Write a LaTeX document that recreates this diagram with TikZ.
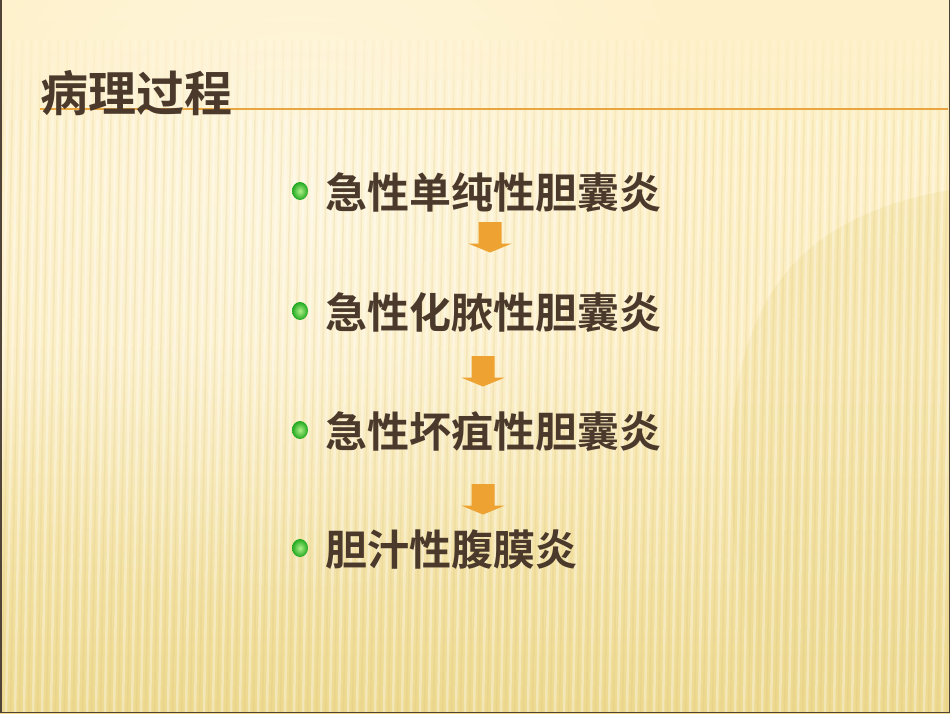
\documentclass[tikz,border=0pt]{standalone}
\usepackage{fontspec}
\newfontfamily\cjk{Noto Sans CJK SC}[BoldFont={Noto Sans CJK SC Bold}]
\usetikzlibrary{shapes.geometric,fadings}
\definecolor{bgtop}{HTML}{FEF1CA}
\definecolor{bgbot}{HTML}{EDD98F}
\definecolor{txt}{HTML}{4B3A2C}
\definecolor{rule}{HTML}{E9A640}
\definecolor{arr}{HTML}{EDA232}
\definecolor{frame}{HTML}{4F4437}
\definecolor{ballout}{HTML}{1FA81F}
\definecolor{ballin}{HTML}{B0F088}
\definecolor{stripedark}{HTML}{D9BF70}
\tikzfading[name=softdisc, inner color=transparent!0, outer color=transparent!100]
\tikzset{
  title/.style={font=\cjk\bfseries\fontsize{48}{50}\selectfont, text=txt, anchor=west, inner sep=0pt},
  item/.style={font=\cjk\bfseries\fontsize{42}{46}\selectfont, text=txt, anchor=west, inner sep=0pt},
  ball/.style={ellipse, minimum width=16pt, minimum height=18pt, inner sep=0pt, shade, inner color=ballin, outer color=ballout},
  lite/.style={white, line width=2.5pt},
  dark/.style={stripedark, line width=1.5pt},
  pics/dnarrow/.style={code={
    \fill[arr] (-11.5,0) -- (11.5,0) -- (11.5,21.5) -- (22,21.5) -- (0,30.5) -- (-22,21.5) -- (-11.5,21.5) -- cycle;
  }}
}
\begin{document}
\begin{tikzpicture}[x=1pt,y=-1pt]
\useasboundingbox (0,0) rectangle (950,713);
% background
\shade[top color=bgtop, bottom color=bgbot, middle color=bgtop!85!bgbot] (0,0) rectangle (950,713);
\fill[bgbot, opacity=0.35] (760,713) .. controls (700,400) and (720,230) .. (950,190) -- (950,713) -- cycle;
\fill[white, opacity=0.4, path fading=softdisc] (300,200) circle (420);
\foreach \i in {0,9,...,960} {
  \draw[lite, opacity=0.10] (\i,40) -- (\i-0.75,80);
  \draw[lite, opacity=0.22] (\i-0.75,80) -- (\i-1.5,120);
  \draw[lite, opacity=0.35] (\i-1.5,120) -- (\i-12,713);
  \draw[dark, opacity=0.06] (\i+4.5,40) -- (\i+3.75,80);
  \draw[dark, opacity=0.12] (\i+3.75,80) -- (\i+3,120);
  \draw[dark, opacity=0.2] (\i+3,120) -- (\i-7.5,713);
}
% frame
\draw[frame, line width=1.5pt] (0.75,0) -- (0.75,712.25) -- (949.25,712.25) -- (949.25,0);
% title rule and title
\draw[rule, line width=2.6pt] (40,109) -- (948,109);
\node[title] (t) at (40,93) {病理过程};
% items
\node[ball] (b1) at (300,191) {};
\node[item] (i1) at (325,193) {急性单纯性胆囊炎};
\node[ball] (b2) at (300,311) {};
\node[item] (i2) at (325,313) {急性化脓性胆囊炎};
\node[ball] (b3) at (300,430) {};
\node[item] (i3) at (325,432) {急性坏疽性胆囊炎};
\node[ball] (b4) at (300,548) {};
\node[item] (i4) at (325,550) {胆汁性腹膜炎};
% arrows
\pic (a1) at (490,222) {dnarrow};
\pic (a2) at (483,356) {dnarrow};
\pic (a3) at (483,484) {dnarrow};
\end{tikzpicture}
\end{document}
